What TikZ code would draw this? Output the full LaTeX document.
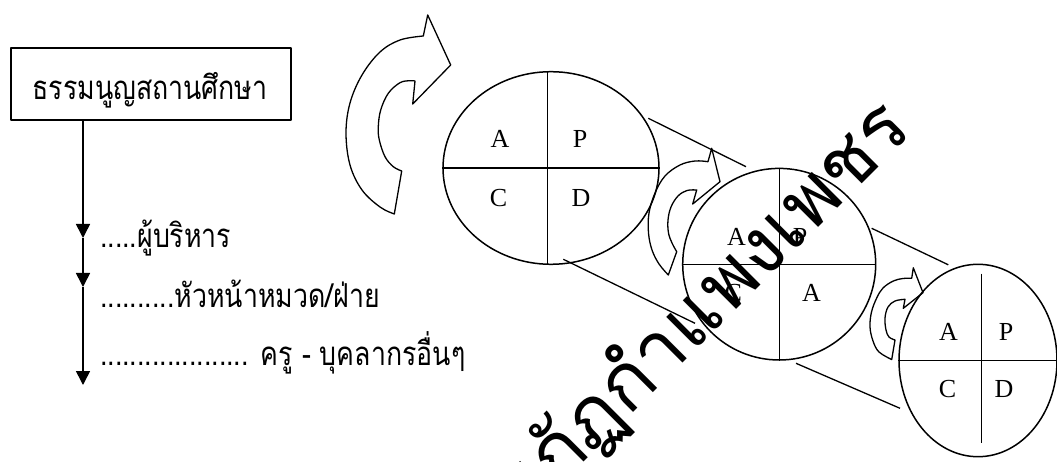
\documentclass[tikz,border=0pt]{standalone}
\usepackage{fontspec}
\setmainfont{Liberation Serif}
\newfontfamily\thaifont[Script=Thai]{Loma}
\usetikzlibrary{shapes.geometric,arrows.meta}
\newcommand{\thn}[1]{\scalebox{0.81}[1]{#1}}
\begin{document}
\begin{tikzpicture}[x=1pt,y=-1pt,line join=round,
  pdca/.style={draw,ellipse,inner sep=0pt,line width=1.5pt},
  letter/.style={font=\fontsize{26}{26}\selectfont,inner sep=0pt},
  cyc/.style={draw,line width=1.3pt},
  conn/.style={line width=1.3pt},
  vline/.style={line width=1.6pt,-{Triangle[width=14pt,length=14pt]}},
  thai/.style={font=\thaifont\fontsize{33}{37}\selectfont,inner sep=0pt},
  wm/.style={font=\thaifont\fontsize{78}{86}\selectfont,inner sep=0pt}]
\clip (0,0) rectangle (1057,462);
\useasboundingbox (0,0) rectangle (1057,462);
% left hierarchy
\node[draw,line width=1.5pt,minimum width=280pt,minimum height=72pt,inner sep=0pt] (box) at (151,84) {};
\node[thai,anchor=base] (boxtxt) at (150,100) {\thn{ธรรมนูญสถานศึกษา}};
\coordinate (a0) at ([xshift=-68pt]box.south);
\coordinate (a1) at (83,238);
\coordinate (a2) at (83,287);
\coordinate (a3) at (83,385);
\draw[vline] (a0) -- (a1);
\draw[vline] (a1) -- (a2);
\draw[vline] (a2) -- (a3);
\node[thai,anchor=base west] (l1) at (100,248) {\thn{.....ผู้บริหาร}};
\node[thai,anchor=base west] (l2) at (100,307) {\thn{..........หัวหน้าหมวด/ฝ่าย}};
\node[thai,anchor=base west] (l3) at (100,365) {\thn{.................... ครู - บุคลากรอื่นๆ}};
% big cycle arrow
\draw[cyc] (412.7,104) -- (450.7,65) -- (427.7,15) -- (423.3,36)
  -- plot[smooth,tension=0.6] coordinates {(423.3,36) (400,40) (380,52) (362,75) (350,103) (346,133) (350,165) (362,190) (380,207) (394.3,214)}
  -- (401.7,171)
  -- plot[smooth,tension=0.6] coordinates {(401.7,171) (393.3,166.7) (385,156.7) (379.3,140) (378.3,126.7) (380.7,110) (388.3,93.3) (400,82.7) (410,80.7) (415,81)}
  -- cycle;
% ellipse 1
\node[pdca,minimum width=216pt,minimum height=192.6pt] (e1) at (551,168) {};
\draw[conn] ([xshift=-3.3pt]e1.north) -- ([xshift=-3.3pt]e1.south);
\draw[conn] (e1.west) -- (e1.east);
\node[letter] (e1a) at (500,139) {A};
\node[letter] (e1p) at (580,139) {P};
\node[letter] (e1c) at (498.5,198) {C};
\node[letter] (e1d) at (581,198) {D};
% small cycle arrow 2
\draw[cyc] (692.7,204) -- (720,181.7) -- (711.7,148.3) -- (708,161.7)
  -- plot[smooth,tension=0.6] coordinates {(708,161.7) (695,161) (680,165) (665,176) (655,193) (649,213) (648.5,233) (652,250) (659,264) (668.3,275)}
  -- (676.7,251.7)
  -- plot[smooth,tension=0.6] coordinates {(676.7,251.7) (672,243) (668.5,233) (668,220) (671,207) (678,196) (687,190.5) (696.7,190)}
  -- cycle;
% connectors e1 -> e2
\coordinate (c1a) at (648.3,118.3);
\coordinate (c1b) at (746,166.7);
\coordinate (c1c) at (563.3,259.3);
\coordinate (c1d) at (695,323.3);
\draw[conn] (c1a) -- (c1b);
\draw[conn] (c1c) -- (c1d);
% circle 2
\node[pdca,minimum width=193pt,minimum height=191.6pt] (e2) at (779.2,264.2) {};
\draw[conn] (e2.north) -- (e2.south);
\draw[conn] (e2.west) -- (e2.east);
\node[letter] (e2a) at (736.5,236.5) {A};
\node[letter] (e2p) at (800,236.5) {P};
\node[letter] (e2c) at (733.3,293.3) {C};
\node[letter] (e2a2) at (811.5,293.3) {A};
% small cycle arrow 3
\draw[cyc] (903.3,308.3) -- (923,292.7) -- (913.3,267.8) -- (911.7,278.3)
  -- plot[smooth,tension=0.6] coordinates {(911.7,278.3) (903,278.5) (893.3,281) (883,288) (876.7,298) (871.5,312) (870,327) (873,341) (879,352) (891.7,359.5)}
  -- (895,340)
  -- plot[smooth,tension=0.6] coordinates {(895,340) (889,337) (886,330) (885,318) (888,307) (895,301) (905,299.3)}
  -- cycle;
% connectors e2 -> e3
\coordinate (c2a) at (871.7,228.3);
\coordinate (c2b) at (948.3,264.8);
\coordinate (c2c) at (796,363.3);
\coordinate (c2d) at (900,408.3);
\draw[conn] (c2a) -- (c2b);
\draw[conn] (c2c) -- (c2d);
% ellipse 3
\node[pdca,minimum width=158pt,minimum height=192.4pt] (e3) at (978,360.5) {};
\draw[conn] ([xshift=3.7pt,yshift=-10pt]e3.north) -- ([xshift=3.7pt,yshift=14pt]e3.south);
\draw[conn] (e3.west) -- (e3.east);
\node[letter] (e3a) at (948.5,332) {A};
\node[letter] (e3p) at (1006,332) {P};
\node[letter] (e3c) at (947.5,389) {C};
\node[letter] (e3d) at (1004,389) {D};
% watermark
\node[wm,rotate=45,anchor=base east] (wm) at (914,132) {มหาวิทยาลัยราชภัฏกำแพงเพชร};
\end{tikzpicture}
\end{document}
